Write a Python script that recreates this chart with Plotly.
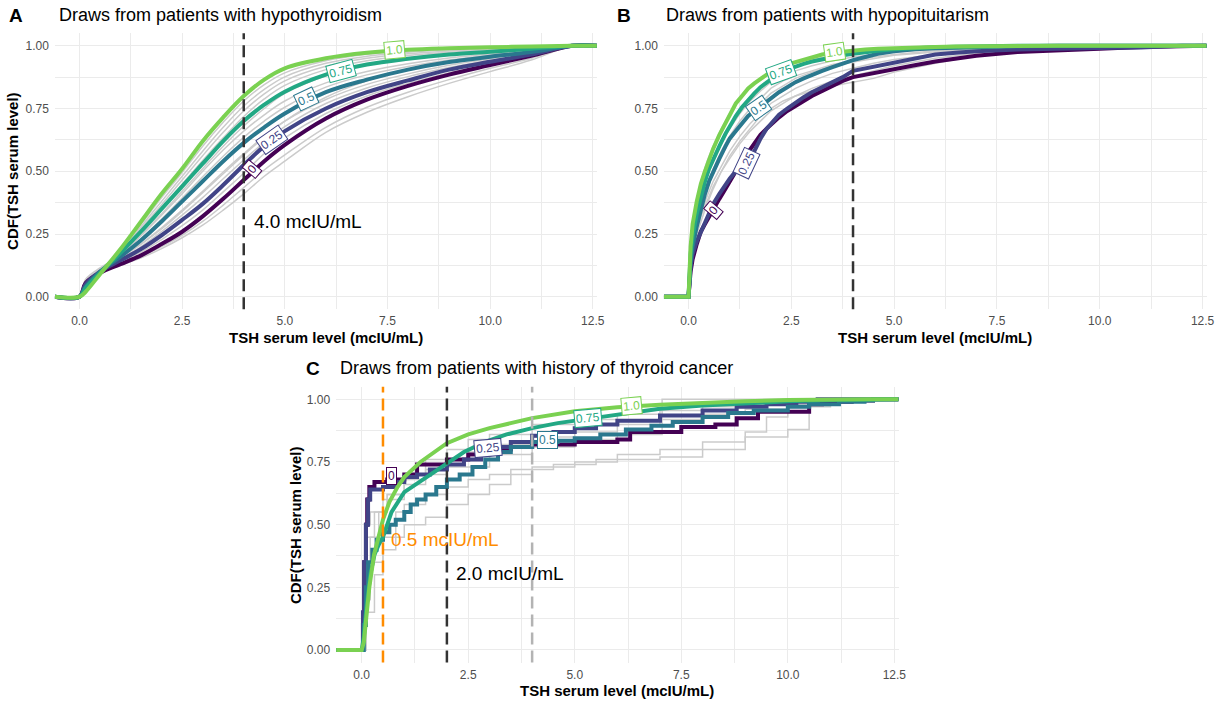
import plotly.graph_objects as go

# ---------------- Panel A data (hypothyroidism) ----------------
xa = [-0.6, 0, 0.15, 0.5, 1.0, 1.5, 2.0, 2.5, 3.0, 3.5, 4.0, 4.5, 5.0, 6.0, 7.0, 8.0, 9.0, 10.0, 11.0, 12.0, 12.6]
a_grays = [
    [0, 0, 0.025, 0.09, 0.185, 0.29, 0.395, 0.495, 0.60, 0.695, 0.78, 0.845, 0.892, 0.94, 0.966, 0.98, 0.988, 0.993, 0.997, 1, 1],
    [0, 0, 0.03, 0.092, 0.18, 0.28, 0.38, 0.48, 0.58, 0.675, 0.76, 0.826, 0.876, 0.93, 0.958, 0.974, 0.984, 0.99, 0.995, 1, 1],
    [0, 0, 0.03, 0.093, 0.178, 0.272, 0.367, 0.465, 0.562, 0.655, 0.74, 0.808, 0.86, 0.918, 0.95, 0.968, 0.979, 0.987, 0.993, 1, 1],
    [0, 0, 0.035, 0.095, 0.172, 0.262, 0.352, 0.448, 0.543, 0.633, 0.718, 0.788, 0.842, 0.905, 0.94, 0.961, 0.974, 0.983, 0.991, 1, 1],
    [0, 0, 0.038, 0.097, 0.167, 0.243, 0.325, 0.41, 0.5, 0.585, 0.66, 0.725, 0.78, 0.852, 0.897, 0.928, 0.951, 0.967, 0.981, 1, 1],
    [0, 0, 0.04, 0.1, 0.163, 0.232, 0.31, 0.393, 0.478, 0.56, 0.635, 0.70, 0.755, 0.835, 0.884, 0.917, 0.943, 0.962, 0.978, 1, 1],
    [0, 0, 0.045, 0.1, 0.155, 0.21, 0.275, 0.345, 0.42, 0.497, 0.57, 0.64, 0.70, 0.786, 0.846, 0.888, 0.922, 0.948, 0.97, 1, 1],
    [0, 0, 0.048, 0.1, 0.15, 0.2, 0.26, 0.325, 0.395, 0.47, 0.545, 0.615, 0.678, 0.77, 0.832, 0.877, 0.913, 0.942, 0.967, 1, 1],
    [0, 0, 0.05, 0.098, 0.138, 0.178, 0.228, 0.283, 0.345, 0.418, 0.492, 0.57, 0.633, 0.73, 0.8, 0.85, 0.893, 0.93, 0.962, 1, 1],
    [0, 0, 0.055, 0.095, 0.128, 0.16, 0.2, 0.245, 0.3, 0.365, 0.435, 0.505, 0.565, 0.675, 0.755, 0.815, 0.865, 0.91, 0.95, 1, 1],
    [0, 0, 0.058, 0.094, 0.125, 0.155, 0.192, 0.235, 0.285, 0.345, 0.41, 0.48, 0.54, 0.655, 0.735, 0.797, 0.85, 0.897, 0.943, 1, 1],
    [0, 0, 0.07, 0.115, 0.16, 0.21, 0.27, 0.34, 0.415, 0.49, 0.565, 0.635, 0.7, 0.795, 0.86, 0.905, 0.94, 0.962, 0.98, 1, 1],
    [0, 0, 0.065, 0.11, 0.17, 0.245, 0.33, 0.42, 0.51, 0.6, 0.68, 0.75, 0.81, 0.88, 0.925, 0.952, 0.97, 0.982, 0.991, 1, 1],
]
a_p00 = [0, 0, 0.055, 0.095, 0.13, 0.165, 0.21, 0.259, 0.32, 0.39, 0.465, 0.54, 0.605, 0.71, 0.785, 0.84, 0.885, 0.923, 0.96, 1, 1]
a_p25 = [0, 0, 0.05, 0.1, 0.145, 0.19, 0.245, 0.306, 0.37, 0.445, 0.525, 0.60, 0.66, 0.75, 0.815, 0.862, 0.905, 0.936, 0.965, 1, 1]
a_p50 = [0, 0, 0.04, 0.1, 0.16, 0.225, 0.30, 0.38, 0.46, 0.54, 0.613, 0.675, 0.73, 0.815, 0.865, 0.905, 0.935, 0.956, 0.975, 1, 1]
a_p75 = [0, 0, 0.035, 0.095, 0.175, 0.26, 0.35, 0.44, 0.53, 0.62, 0.70, 0.765, 0.817, 0.885, 0.925, 0.948, 0.965, 0.976, 0.988, 1, 1]
a_p100 = [0, 0, 0.02, 0.09, 0.19, 0.30, 0.41, 0.51, 0.62, 0.715, 0.80, 0.865, 0.91, 0.95, 0.972, 0.984, 0.99, 0.994, 0.997, 1, 1]

# ---------------- Panel B data (hypopituitarism) ----------------
xb = [-0.6, 0, 0.05, 0.1, 0.2, 0.3, 0.4, 0.5, 0.6, 0.75, 0.9, 1.0, 1.15, 1.3, 1.45, 1.6, 1.75, 1.9, 2.05, 2.2, 2.4,
      2.6, 2.8, 3.0, 3.25, 3.5, 3.75, 4.0, 4.3, 4.6, 5.0, 5.5, 6.0, 6.5, 7.0, 8.0, 9.0, 10.0, 11.0, 12.0, 12.6]
b_p100 = [0, 0, 0.2, 0.29, 0.38, 0.45, 0.5, 0.55, 0.59, 0.645, 0.695, 0.725, 0.77, 0.80, 0.83, 0.85, 0.87, 0.885, 0.9, 0.912, 0.925,
          0.935, 0.945, 0.955, 0.965, 0.972, 0.977, 0.981, 0.985, 0.988, 0.991, 0.993, 0.995, 0.997, 0.998, 0.999, 1, 1, 1, 1, 1]
b_p75 = [0, 0, 0.17, 0.24, 0.33, 0.40, 0.46, 0.51, 0.55, 0.6, 0.65, 0.68, 0.72, 0.755, 0.785, 0.81, 0.835, 0.855, 0.873, 0.89, 0.905,
         0.918, 0.928, 0.937, 0.946, 0.955, 0.962, 0.968, 0.975, 0.98, 0.986, 0.991, 0.994, 0.996, 0.998, 1, 1, 1, 1, 1, 1]
b_p50 = [0, 0, 0.14, 0.2, 0.28, 0.35, 0.41, 0.46, 0.5, 0.55, 0.6, 0.63, 0.66, 0.69, 0.72, 0.74, 0.76, 0.78, 0.8, 0.815, 0.835,
         0.855, 0.87, 0.885, 0.9, 0.915, 0.93, 0.943, 0.955, 0.968, 0.978, 0.986, 0.99, 0.993, 0.996, 0.998, 1, 1, 1, 1, 1]
b_p25 = [0, 0, 0.12, 0.17, 0.22, 0.26, 0.3, 0.33, 0.37, 0.41, 0.45, 0.47, 0.5, 0.52, 0.545, 0.58, 0.63, 0.67, 0.7, 0.725, 0.75,
         0.775, 0.795, 0.815, 0.835, 0.855, 0.875, 0.9, 0.91, 0.922, 0.935, 0.95, 0.965, 0.972, 0.978, 0.985, 0.989, 0.991, 0.993, 1, 1]
b_p00 = [0, 0, 0.1, 0.15, 0.21, 0.26, 0.29, 0.32, 0.345, 0.39, 0.43, 0.46, 0.5, 0.54, 0.575, 0.61, 0.645, 0.67, 0.695, 0.715, 0.74,
         0.76, 0.78, 0.8, 0.82, 0.84, 0.86, 0.875, 0.885, 0.895, 0.905, 0.922, 0.937, 0.95, 0.96, 0.975, 0.983, 0.988, 0.995, 1, 1]
xbg = [-0.6, 0, 0.05, 0.1, 0.2, 0.3, 0.45, 0.6, 0.8, 1.0, 1.25, 1.5, 1.75, 2.0, 2.3, 2.6, 3.0, 3.5, 4.0, 4.5, 5.0, 6.0, 7.0, 8.0,
       9.0, 10.0, 11.0, 12.0, 12.6]
b_grays = [
    [0, 0, 0.22, 0.3, 0.39, 0.46, 0.54, 0.6, 0.67, 0.73, 0.79, 0.835, 0.87, 0.895, 0.915, 0.93, 0.945, 0.96, 0.97, 0.978, 0.984, 0.99, 0.995, 0.998, 1, 1, 1, 1, 1],
    [0, 0, 0.18, 0.25, 0.34, 0.4, 0.48, 0.54, 0.61, 0.67, 0.73, 0.78, 0.82, 0.855, 0.88, 0.9, 0.92, 0.94, 0.955, 0.965, 0.975, 0.985, 0.99, 0.995, 0.998, 1, 1, 1, 1],
    [0, 0, 0.15, 0.22, 0.3, 0.36, 0.43, 0.49, 0.56, 0.62, 0.68, 0.73, 0.77, 0.81, 0.84, 0.87, 0.895, 0.92, 0.935, 0.95, 0.962, 0.975, 0.985, 0.99, 0.995, 0.998, 1, 1, 1],
    [0, 0, 0.14, 0.2, 0.27, 0.33, 0.4, 0.46, 0.52, 0.58, 0.64, 0.69, 0.73, 0.77, 0.8, 0.83, 0.86, 0.89, 0.91, 0.93, 0.945, 0.965, 0.978, 0.987, 0.993, 0.997, 1, 1, 1],
    [0, 0, 0.12, 0.18, 0.25, 0.3, 0.37, 0.43, 0.5, 0.55, 0.61, 0.66, 0.7, 0.74, 0.77, 0.8, 0.83, 0.86, 0.88, 0.9, 0.92, 0.95, 0.97, 0.982, 0.99, 0.995, 0.998, 1, 1],
    [0, 0, 0.13, 0.19, 0.26, 0.32, 0.38, 0.44, 0.5, 0.56, 0.62, 0.67, 0.72, 0.75, 0.78, 0.8, 0.82, 0.84, 0.855, 0.87, 0.895, 0.93, 0.96, 0.98, 0.99, 0.995, 1, 1, 1],
    [0, 0, 0.16, 0.23, 0.31, 0.38, 0.45, 0.51, 0.58, 0.64, 0.7, 0.75, 0.79, 0.83, 0.86, 0.88, 0.9, 0.925, 0.94, 0.955, 0.965, 0.98, 0.988, 0.994, 0.997, 1, 1, 1, 1],
]

# ---------------- Panel C data (history of thyroid cancer) ----------------
c_p100_x = [-0.6, 0, 0.05, 0.1, 0.18, 0.29, 0.4, 0.5, 0.65, 0.84, 1.0, 1.38, 2.0, 2.5, 3.0, 3.5, 4.0, 5.0, 6.0, 7.0, 8.0, 9.0, 10.0, 11.0, 12.0, 12.6]
c_p100_y = [0, 0, 0.03, 0.12, 0.25, 0.38, 0.46, 0.52, 0.59, 0.65, 0.69, 0.75, 0.825, 0.86, 0.885, 0.905, 0.925, 0.952, 0.968, 0.978, 0.986, 0.992, 0.997, 1.0, 1.0, 1.0]
c_p75_x = [-0.6, 0, 0.05, 0.1, 0.2, 0.3, 0.4, 0.5, 0.7, 1.0, 1.35, 1.7, 2.0, 2.4, 2.9, 3.4, 4.0, 4.6, 5.3, 6.0, 7.0, 8.0, 9.0, 10.0, 11.0, 12.0, 12.6]
c_p75_y = [0, 0, 0.05, 0.15, 0.3, 0.38, 0.42, 0.45, 0.55, 0.63, 0.67, 0.71, 0.745, 0.79, 0.83, 0.86, 0.885, 0.905, 0.922, 0.94, 0.962, 0.975, 0.985, 0.992, 0.997, 1.0, 1.0]
c_p50_x = [-0.6, 0, 0.05, 0.1, 0.15, 0.25, 0.35, 0.5, 0.65, 0.8, 1.0, 1.15, 1.3, 1.5, 1.75, 2.0, 2.3, 2.6, 2.9, 3.2, 3.5, 4.0,
           4.6, 5.0, 5.6, 6.2, 6.8, 7.3, 8.0, 8.6, 9.2, 10.0, 10.5, 11.2, 11.8, 12.0, 12.6]
c_p50_y = [0, 0, 0.1, 0.25, 0.35, 0.4, 0.44, 0.47, 0.5, 0.52, 0.55, 0.58, 0.6, 0.62, 0.65, 0.68, 0.7, 0.73, 0.76, 0.79, 0.81, 0.83,
           0.835, 0.845, 0.86, 0.88, 0.895, 0.91, 0.93, 0.945, 0.955, 0.97, 0.98, 0.99, 0.995, 1.0, 1.0]
c_p25_x = [-0.6, 0, 0.03, 0.06, 0.1, 0.15, 0.2, 0.5, 0.8, 1.0, 1.3, 1.6, 2.0, 2.4, 2.8, 3.1, 3.5, 4.0, 4.5, 5.0, 5.5, 6.0, 7.0,
           8.0, 8.8, 9.5, 10.2, 10.7, 12.0, 12.6]
c_p25_y = [0, 0, 0.15, 0.35, 0.5, 0.6, 0.64, 0.65, 0.67, 0.69, 0.7, 0.72, 0.74, 0.76, 0.79, 0.81, 0.83, 0.855, 0.87, 0.885, 0.9, 0.915, 0.935,
           0.955, 0.97, 0.98, 0.99, 1.0, 1.0, 1.0]
c_p00_x = [-0.6, 0, 0.03, 0.06, 0.1, 0.13, 0.18, 0.3, 0.6, 1.0, 1.3, 2.0, 2.5, 3.0, 3.5, 4.0, 5.0, 6.0, 6.3, 7.5, 8.3, 8.8, 9.3,
           10.5, 10.8, 11.5, 12.0, 12.6]
c_p00_y = [0, 0, 0.1, 0.35, 0.5, 0.6, 0.65, 0.67, 0.68, 0.7, 0.74, 0.76, 0.78, 0.8, 0.81, 0.82, 0.83, 0.84, 0.87, 0.89, 0.9, 0.925, 0.95,
           0.98, 0.99, 0.995, 1.0, 1.0]
c_grays = [
    ([-0.6, 0, 0.1, 0.3, 0.5, 0.8, 1.0, 1.5, 2.0, 2.5, 3.0, 3.5, 4.0, 4.5, 5.5, 7.0, 8.0, 9.0, 10.0, 10.5, 12.6],
     [0, 0, 0.15, 0.3, 0.4, 0.45, 0.5, 0.53, 0.58, 0.62, 0.66, 0.7, 0.72, 0.74, 0.76, 0.77, 0.8, 0.85, 0.88, 1.0, 1.0]),
    ([-0.6, 0, 0.1, 0.2, 0.5, 0.8, 1.0, 1.5, 2.0, 2.5, 3.0, 3.5, 4.0, 5.0, 6.0, 7.0, 8.0, 9.0, 9.5, 10.0, 11.0, 12.6],
     [0, 0, 0.2, 0.35, 0.45, 0.55, 0.58, 0.62, 0.65, 0.68, 0.7, 0.72, 0.73, 0.75, 0.78, 0.8, 0.83, 0.87, 0.93, 0.97, 1.0, 1.0]),
    ([-0.6, 0, 0.05, 0.1, 0.2, 0.5, 1.0, 1.5, 2.0, 3.0, 4.0, 5.0, 6.0, 7.05, 12.6],
     [0, 0, 0.3, 0.5, 0.55, 0.6, 0.66, 0.7, 0.73, 0.78, 0.81, 0.84, 0.86, 1.0, 1.0]),
    ([-0.6, 0, 0.05, 0.1, 0.3, 0.6, 1.0, 1.5, 2.0, 2.5, 3.0, 4.0, 5.0, 6.0, 7.0, 8.0, 9.0, 10.0, 11.0, 12.6],
     [0, 0, 0.25, 0.45, 0.55, 0.62, 0.68, 0.72, 0.76, 0.79, 0.82, 0.85, 0.87, 0.9, 0.92, 0.94, 0.96, 0.98, 1.0, 1.0]),
    ([-0.6, 0, 0.1, 0.2, 0.4, 0.6, 1.0, 1.5, 2.0, 2.5, 3.0, 4.0, 5.0, 6.0, 7.0, 8.0, 9.0, 10.0, 11.0, 12.6],
     [0, 0, 0.3, 0.45, 0.55, 0.62, 0.7, 0.76, 0.8, 0.84, 0.86, 0.9, 0.92, 0.94, 0.955, 0.97, 0.98, 0.99, 1.0, 1.0]),
]

levels = ["0", "0.25", "0.5", "0.75", "1.0"]
colors = ["#440154", "#414487", "#2A788E", "#22A884", "#7AD151"]

# label positions (x, y, angle) per panel, from the picture
a_labels = [(4.21, 0.507, -50), (4.68, 0.624, -35), (5.52, 0.786, -25), (6.37, 0.90, -15), (7.66, 0.983, -5)]
b_labels = [(0.61, 0.345, -50), (1.42, 0.531, -65), (1.70, 0.753, -35), (2.26, 0.896, -20), (3.55, 0.976, -8)]
c_labels = [(0.71, 0.695, 0), (2.96, 0.805, -5), (4.37, 0.838, 0), (5.31, 0.924, -5), (6.32, 0.975, -5)]

GRAY = "#CBCBCB"
FONT = "Liberation Sans, Arial, sans-serif"

fig = go.Figure()

def add(x, y, xa_, ya_, color, width, shape):
    fig.add_trace(go.Scatter(x=x, y=y, mode="lines", xaxis=xa_, yaxis=ya_,
                             line=dict(color=color, width=width, shape=shape),
                             hoverinfo="skip", showlegend=False))

# Panel A
for g in a_grays:
    add(xa, g, "x", "y", GRAY, 1.5, "spline")
for ys, c in zip([a_p00, a_p25, a_p50, a_p75, a_p100], colors):
    add(xa, ys, "x", "y", c, 4, "spline")

# Panel B
for g in b_grays:
    add(xbg, g, "x2", "y2", GRAY, 1.5, "linear")
for ys, c in zip([b_p00, b_p25, b_p50, b_p75, b_p100], colors):
    add(xb, ys, "x2", "y2", c, 4, "linear")

# Panel C
for gx, gy in c_grays:
    add(gx, gy, "x3", "y3", GRAY, 1.5, "hv")
for (xs, ys), c, sh in zip([(c_p00_x, c_p00_y), (c_p25_x, c_p25_y), (c_p50_x, c_p50_y),
                           (c_p75_x, c_p75_y), (c_p100_x, c_p100_y)], colors,
                          ["hv", "hv", "hv", "linear", "linear"]):
    add(xs, ys, "x3", "y3", c, 4, sh)

annotations = []
for labels, xr, yr in [(a_labels, "x", "y"), (b_labels, "x2", "y2"), (c_labels, "x3", "y3")]:
    for (lx, ly, ang), txt, c in zip(labels, levels, colors):
        annotations.append(dict(x=lx, y=ly, xref=xr, yref=yr, text=txt, showarrow=False,
                                textangle=ang, font=dict(family=FONT, size=12, color=c),
                                bgcolor="white", bordercolor=c, borderwidth=1, borderpad=1))

# threshold texts
annotations += [
    dict(x=4.19, y=0.30, xref="x", yref="y", text="4.0 mcIU/mL", showarrow=False, xanchor="left",
         font=dict(family=FONT, size=19, color="black")),
    dict(x=0.65, y=0.44, xref="x3", yref="y3", text="0.5 mcIU/mL", showarrow=False, xanchor="left",
         font=dict(family=FONT, size=19, color="#FF8C00")),
    dict(x=2.16, y=0.306, xref="x3", yref="y3", text="2.0 mcIU/mL", showarrow=False, xanchor="left",
         font=dict(family=FONT, size=19, color="black")),
]

W, H = 1231, 702
def px(x):
    return x / W
def py(y):
    return 1 - y / H

# panel tags and titles
for tag, tx, title, ttx, ty in [("A", 7, "Draws from patients with hypothyroidism", 57, 15),
                                ("B", 619, "Draws from patients with hypopituitarism", 668, 15),
                                ("C", 306, "Draws from patients with history of thyroid cancer", 340, 368)]:
    annotations.append(dict(x=px(tx), y=py(ty), xref="paper", yref="paper", text="<b>" + tag + "</b>",
                            showarrow=False, xanchor="left", yanchor="middle",
                            font=dict(family=FONT, size=19, color="black")))
    annotations.append(dict(x=px(ttx), y=py(ty), xref="paper", yref="paper", text=title,
                            showarrow=False, xanchor="left", yanchor="middle",
                            font=dict(family=FONT, size=18, color="black")))

# axis titles
for ax_x, ax_y in [(328, 338), (941, 338), (621, 690)]:
    annotations.append(dict(x=px(ax_x), y=py(ax_y), xref="paper", yref="paper",
                            text="<b>TSH serum level (mcIU/mL)</b>", showarrow=False,
                            xanchor="center", yanchor="middle",
                            font=dict(family=FONT, size=15, color="black")))
for ay_x, ay_y in [(12, 171), (297, 525)]:
    annotations.append(dict(x=px(ay_x), y=py(ay_y), xref="paper", yref="paper",
                            text="<b>CDF(TSH serum level)</b>", showarrow=False, textangle=-90,
                            xanchor="center", yanchor="middle",
                            font=dict(family=FONT, size=15, color="black")))

shapes = []
for xv, xr, yr, col in [(4.0, "x", "y domain", "#333333"), (4.0, "x2", "y2 domain", "#333333"),
                        (0.5, "x3", "y3 domain", "#FF8C00"), (2.0, "x3", "y3 domain", "#333333"),
                        (4.0, "x3", "y3 domain", "#B3B3B3")]:
    shapes.append(dict(type="line", x0=xv, x1=xv, y0=0, y1=1, xref=xr, yref=yr,
                       line=dict(color=col, width=2.5, dash="12px,6px"), layer="above"))

def xaxis(domain, anchor):
    return dict(domain=domain, anchor=anchor, range=[-0.6, 12.6], tick0=0, dtick=2.5, tickformat=".1f",
                showgrid=True, gridcolor="#EBEBEB", gridwidth=1, zeroline=False, showline=False, ticks="",
                tickfont=dict(family=FONT, size=12, color="#4D4D4D"), ticklabelstandoff=3,
                minor=dict(dtick=1.25, tick0=0, showgrid=True, gridcolor="#EBEBEB", gridwidth=0.6),
                fixedrange=True)

def yaxis(domain, anchor):
    return dict(domain=domain, anchor=anchor, range=[-0.05, 1.05], tick0=0, dtick=0.25, tickformat=".2f",
                showgrid=True, gridcolor="#EBEBEB", gridwidth=1, zeroline=False, showline=False, ticks="",
                tickfont=dict(family=FONT, size=12, color="#4D4D4D"), ticklabelstandoff=5,
                minor=dict(dtick=0.125, tick0=0, showgrid=True, gridcolor="#EBEBEB", gridwidth=0.6),
                fixedrange=True)

fig.update_layout(
    width=W, height=H, margin=dict(l=0, r=0, t=0, b=0),
    paper_bgcolor="white", plot_bgcolor="white", showlegend=False,
    xaxis=xaxis([55.2 / W, 600.8 / W], "y"),
    yaxis=yaxis([1 - 309.3 / H, 1 - 33.2 / H], "x"),
    xaxis2=xaxis([668.2 / W, 1214.6 / W], "y2"),
    yaxis2=yaxis([1 - 309.3 / H, 1 - 33.2 / H], "x2"),
    xaxis3=xaxis([338.3 / W, 904.5 / W], "y3"),
    yaxis3=yaxis([1 - 662.5 / H, 1 - 386.8 / H], "x3"),
    annotations=annotations, shapes=shapes,
    font=dict(family=FONT),
)

fig.write_html("out.html")
